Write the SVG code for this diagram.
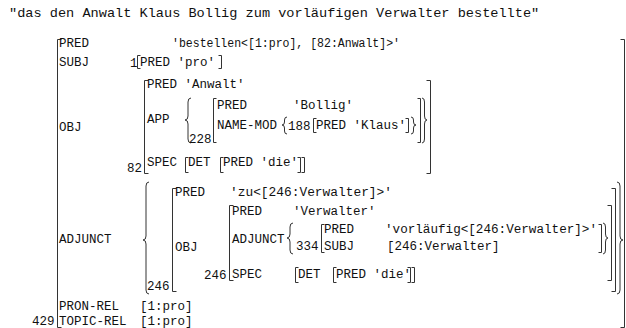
<svg xmlns="http://www.w3.org/2000/svg" width="626" height="328" viewBox="0 0 626 328">
<style>
.t{font-family:"Liberation Mono","DejaVu Sans Mono",monospace;font-size:12.5px;fill:#111}
.ti{font-size:13.6px}
.b{fill:none;stroke:#333;stroke-width:1}
</style>
<rect width="626" height="328" fill="#fff"/>
<g id="title"><text class="t ti" x="9" y="17">"das den Anwalt Klaus Bollig zum vorläufigen Verwalter bestellte"</text></g>

<g id="fs429">
<path class="b" d="M61.5,39.5 H57.5 V327.5 H61.5"/>
<path class="b" d="M620.5,39.5 H624.5 V327.5 H620.5"/>
<text class="t" x="59" y="47">PRED</text>
<text class="t" x="172" y="47" textLength="228" lengthAdjust="spacingAndGlyphs">'bestellen&lt;[1:pro], [82:Anwalt]&gt;'</text>
<text class="t" x="59" y="66">SUBJ</text>
<text class="t" x="59" y="131">OBJ</text>
<text class="t" x="59" y="243">ADJUNCT</text>
<text class="t" x="59" y="310">PRON-REL</text>
<text class="t" x="140" y="310">[1:pro]</text>
<text class="t" x="32" y="325">429</text>
<text class="t" x="59" y="325">TOPIC-REL</text>
<text class="t" x="140" y="325">[1:pro]</text>
</g>

<g id="fs1">
<text class="t" x="130" y="67">1</text>
<path class="b" d="M140.5,55.5 H137.5 V68.5 H140.5"/>
<text class="t" x="140" y="66">PRED 'pro'</text>
<path class="b" d="M218.5,55.5 H221.5 V68.5 H218.5"/>
</g>

<g id="fs82">
<path class="b" d="M148.5,80.5 H144.5 V173.5 H148.5"/>
<path class="b" d="M426.5,80.5 H430.5 V173.5 H426.5"/>
<text class="t" x="147" y="88">PRED 'Anwalt'</text>
<text class="t" x="147" y="123">APP</text>
<text class="t" x="147" y="166">SPEC</text>
<text class="t" x="127" y="172">82</text>
<path class="b" d="M191,98 Q188,98 188,102 V116 Q188,120 185,120 Q188,120 188,124 V139 Q188,143 191,143"/>
<path class="b" d="M422,98 Q424.5,98 424.5,102 V116 Q424.5,120 427,120 Q424.5,120 424.5,124 V139 Q424.5,143 422,143"/>
<path class="b" d="M188.5,157.5 H185.5 V172.5 H188.5"/>
<text class="t" x="188" y="166">DET</text>
<path class="b" d="M223.5,157.5 H220.5 V172.5 H223.5"/>
<text class="t" x="223" y="166">PRED 'die'</text>
<path class="b" d="M297.5,157.5 H300.5 V172.5 H297.5"/>
<path class="b" d="M301.5,157.5 H304.5 V172.5 H301.5"/>
</g>

<g id="fs228">
<text class="t" x="189" y="143">228</text>
<path class="b" d="M216.5,98.5 H213.5 V142.5 H216.5"/>
<path class="b" d="M417.5,98.5 H420.5 V142.5 H417.5"/>
<text class="t" x="217" y="109">PRED</text>
<text class="t" x="293" y="109">'Bollig'</text>
<text class="t" x="217" y="129">NAME-MOD</text>
<path class="b" d="M287,117 Q284.5,117 284.5,120 V122 Q284.5,125 282,125 Q284.5,125 284.5,128 V131 Q284.5,134 287,134"/>
<path class="b" d="M411,117 Q413.5,117 413.5,120 V122 Q413.5,125 416,125 Q413.5,125 413.5,128 V131 Q413.5,134 411,134"/>
</g>

<g id="fs188">
<text class="t" x="288" y="130">188</text>
<path class="b" d="M316.5,118.5 H313.5 V132.5 H316.5"/>
<text class="t" x="316" y="129">PRED 'Klaus'</text>
<path class="b" d="M405.5,118.5 H408.5 V132.5 H405.5"/>
</g>

<g id="adjunct-set">
<path class="b" d="M149,182 Q146,182 146,186 V236 Q146,240 143,240 Q146,240 146,244 V290 Q146,294 149,294"/>
<path class="b" d="M617,182 Q620,182 620,186 V236 Q620,240 623,240 Q620,240 620,244 V290 Q620,294 617,294"/>
</g>

<g id="fs246a">
<text class="t" x="147" y="290">246</text>
<path class="b" d="M176.5,188.5 H172.5 V291.5 H176.5"/>
<path class="b" d="M611.5,188.5 H615.5 V291.5 H611.5"/>
<text class="t" x="175" y="196">PRED</text>
<text class="t" x="230" y="196" textLength="162" lengthAdjust="spacingAndGlyphs">'zu&lt;[246:Verwalter]&gt;'</text>
<text class="t" x="175" y="251">OBJ</text>
</g>

<g id="fs246b">
<text class="t" x="204" y="279">246</text>
<path class="b" d="M233.5,205.5 H229.5 V280.5 H233.5"/>
<path class="b" d="M607.5,205.5 H611.5 V280.5 H607.5"/>
<text class="t" x="232" y="215">PRED</text>
<text class="t" x="293" y="215">'Verwalter'</text>
<text class="t" x="232" y="243">ADJUNCT</text>
<text class="t" x="232" y="278">SPEC</text>
<path class="b" d="M293,223 Q290,223 290,227 V234 Q290,238 287,238 Q290,238 290,242 V250 Q290,254 293,254"/>
<path class="b" d="M603,223 Q605.5,223 605.5,227 V234 Q605.5,238 608,238 Q605.5,238 605.5,242 V250 Q605.5,254 603,254"/>
<path class="b" d="M298.5,267.5 H295.5 V282.5 H298.5"/>
<text class="t" x="298" y="278">DET</text>
<path class="b" d="M336.5,267.5 H333.5 V282.5 H336.5"/>
<text class="t" x="336" y="278">PRED 'die'</text>
<path class="b" d="M407.5,267.5 H410.5 V282.5 H407.5"/>
<path class="b" d="M411.5,267.5 H414.5 V282.5 H411.5"/>
</g>

<g id="fs334">
<text class="t" x="296" y="250">334</text>
<path class="b" d="M324.5,224.5 H321.5 V252.5 H324.5"/>
<path class="b" d="M598.5,224.5 H601.5 V252.5 H598.5"/>
<text class="t" x="324" y="233">PRED</text>
<text class="t" x="385" y="233" textLength="212" lengthAdjust="spacingAndGlyphs">'vorläufig&lt;[246:Verwalter]&gt;'</text>
<text class="t" x="324" y="250">SUBJ</text>
<text class="t" x="387" y="250">[246:Verwalter]</text>
</g>
</svg>
